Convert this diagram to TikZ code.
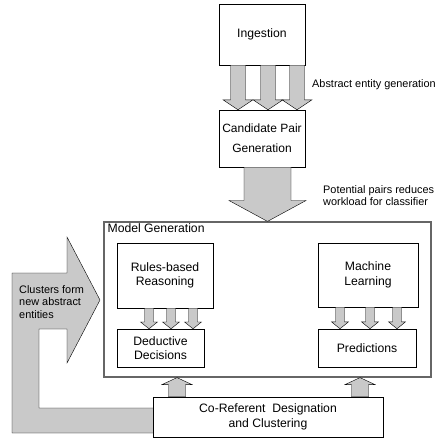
\documentclass[tikz,border=0pt]{standalone}
\usepackage{fontspec}
\setmainfont{Liberation Sans}
\usetikzlibrary{calc}
\definecolor{arrowgray}{gray}{0.79}
\definecolor{framegray}{gray}{0.4}

% block arrow between two anchors: start, end, x, shaft half width, head half width, head length
\newcommand{\fatarrow}[6]{%
  \draw[fill=arrowgray] let \p1=(#1), \p2=(#2), \p3=($(\p2)!#6pt!(\p1)$) in
    (#3pt-#4pt,\y1) -- (#3pt-#4pt,\y3) -- (#3pt-#5pt,\y3) -- (#3pt,\y2)
    -- (#3pt+#5pt,\y3) -- (#3pt+#4pt,\y3) -- (#3pt+#4pt,\y1) -- cycle;}

\begin{document}
\begin{tikzpicture}[x=1pt,y=-1pt,
    box/.style={draw, fill=white, align=center, inner sep=0pt, font=\fontsize{12.2}{14.5}\selectfont},
    note/.style={align=left, anchor=west, inner sep=0pt, font=\fontsize{10.9}{12.6}\selectfont}]
    \useasboundingbox (0,0) rectangle (437,439);
    % top of the pipeline
    \node[box, minimum width=86pt, minimum height=61pt] (ingest) at (262,34.5) {Ingestion};
    \node[box, minimum width=86pt, minimum height=57pt, font=\fontsize{12}{20}\selectfont] (cand) at (262,138.5) {Candidate Pair\\Generation};
    \foreach \ax in {238, 268, 297}
        {\fatarrow{ingest.south}{cand.north}{\ax}{7.5}{15}{10}}
    \node[note] (abstract) at (312,85) {Abstract entity generation};
    % model generation frame
    \node[draw=framegray, line width=1.2pt, minimum width=327pt, minimum height=155pt] (model) at (267.5,299.5) {};
    \node[anchor=north west, inner sep=0pt, font=\fontsize{12.2}{14.5}\selectfont] (modeltitle) at ($(model.north west)+(4pt,-2pt)$) {Model Generation};
    \fatarrow{cand.south}{model.north}{267.5}{23.5}{38.5}{21}
    \node[note] (pairs) at (323,195.5) {Potential pairs reduces\\workload for classifier};
    % two branches
    \node[box, minimum width=96pt, minimum height=65pt] (rules) at (165,275.5) {Rules-based\\Reasoning};
    \node[box, minimum width=87pt, minimum height=38pt] (deduct) at (160.5,348) {Deductive\\Decisions};
    \node[box, minimum width=100pt, minimum height=64pt] (machine) at (368,275) {Machine\\Learning};
    \node[box, minimum width=98pt, minimum height=38pt] (predict) at (367,348) {Predictions};
    \foreach \ax in {149, 171, 193}
        {\fatarrow{rules.south}{deduct.north}{\ax}{4.5}{8.5}{7}}
    \foreach \ax in {340, 370, 397}
        {\fatarrow{machine.south}{predict.north}{\ax}{4.5}{8.5}{7}}
    % feedback loop
    \node[box, minimum width=230pt, minimum height=40pt] (coref) at (268,417) {};
    \draw[fill=arrowgray] (coref.west |- 0,433) -- (12,433) -- (12,273) -- (67,273) -- (67,237)
        -- (100,300) -- (67,363) -- (67,329) -- (39,329) -- (39,408) -- (coref.west |- 0,408);
    \node[box, minimum width=230pt, minimum height=40pt] (coref) at (268,417) {Co-Referent~ Designation\\and Clustering};
    \foreach \ax in {177, 360}
        {\fatarrow{coref.north}{model.south}{\ax}{8.5}{15}{7}}
    \node[note, anchor=north west] (clusters) at (19,285) {Clusters form\\new abstract\\entities};
\end{tikzpicture}
\end{document}
